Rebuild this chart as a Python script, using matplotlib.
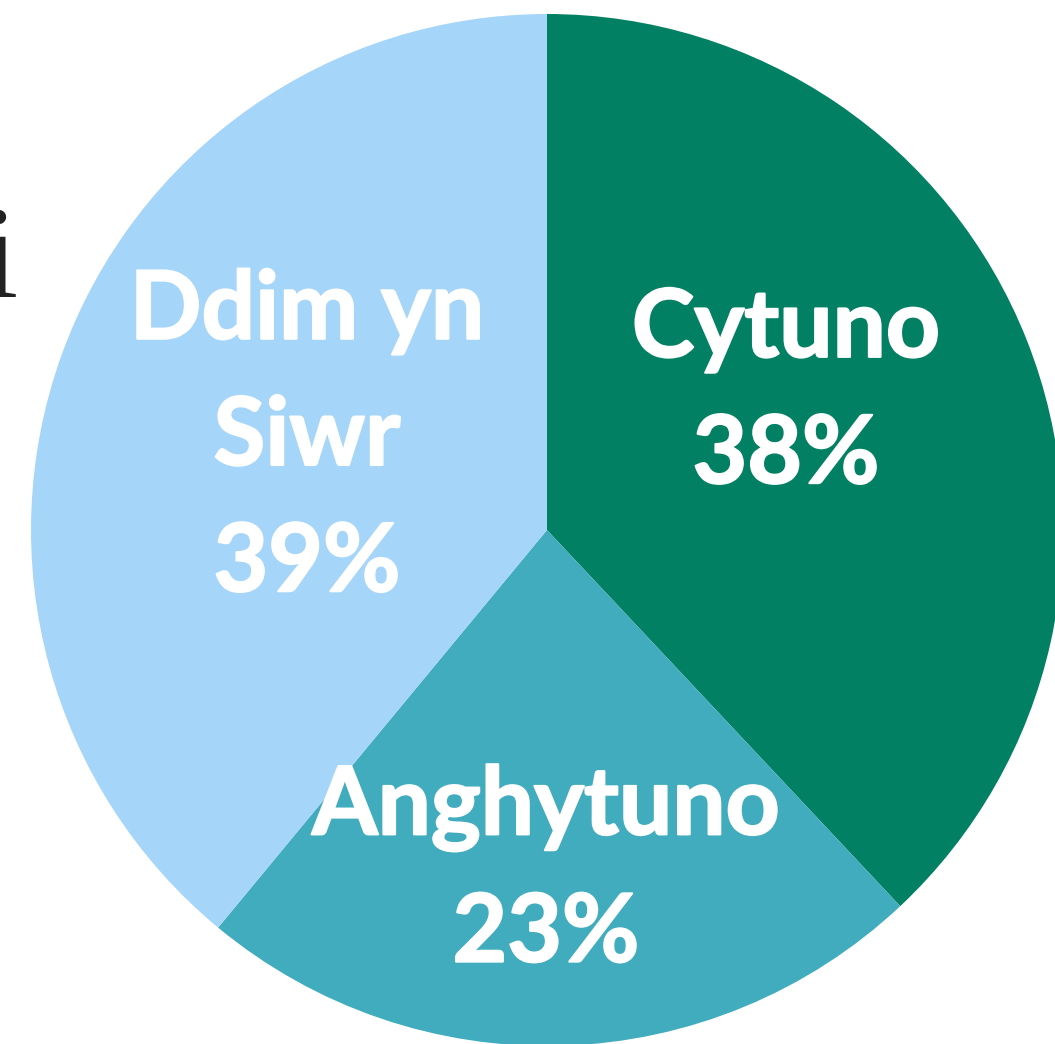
import matplotlib
matplotlib.use("Agg")
import matplotlib.pyplot as plt
import matplotlib.patheffects as pe

labels = ["Cytuno", "Anghytuno", "Ddim yn\nSiwr"]
shares = [38, 23, 39]
colors = ["#028063", "#40acbd", "#a6d5fa"]

# layout in pixel coords (figure is 1055x1044)
W, H = 1055, 1044
cx, cy, r = 547, H - 530, 516
label_xy = [(786, H - 393), (546, H - 871), (307, H - 438)]

fig = plt.figure(figsize=(W / 100, H / 100), dpi=100)
ax = fig.add_axes([0, 0, 1, 1])

ax.pie(shares, colors=colors, startangle=90, counterclock=False,
       center=(cx, cy), radius=r, wedgeprops=dict(linewidth=0))
ax.set_xlim(0, W)
ax.set_ylim(0, H)
ax.set_aspect("equal")
ax.axis("off")

# slight extra weight so the labels look as heavy as the original
heavy = [pe.withStroke(linewidth=1.5, foreground="white")]
for lab, val, (x, y) in zip(labels, shares, label_xy):
    ax.text(x, y, f"{lab}\n{val}%", ha="center", va="center", color="white",
            fontsize=68, fontweight="bold", family="Lato", linespacing=1.575,
            multialignment="center", path_effects=heavy)

# bit of the cut-off heading on the left
ax.text(17, H - 297, "i", ha="right", va="baseline", color="#222222",
        fontsize=94, family="Liberation Serif")

fig.savefig("out.png", dpi=100)
